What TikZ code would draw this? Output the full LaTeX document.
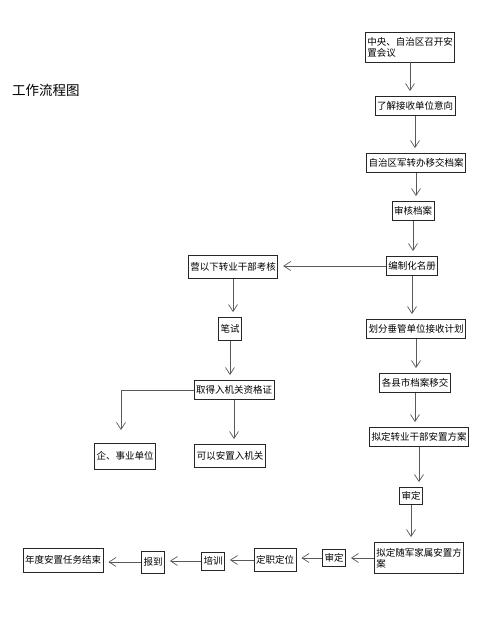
\documentclass[tikz,border=0pt]{standalone}
\usepackage{fontspec}
\newfontfamily\cjk{Noto Sans CJK SC}
\usetikzlibrary{arrows.meta}
\tikzset{
  box/.style={draw=black!85, line width=.8pt, font=\cjk\fontsize{9.5}{11}\selectfont, inner sep=2pt, minimum height=19pt},
  flow/.style={draw=black!65, line width=.7pt, -{Straight Barb[length=7pt,width=9pt]}, shorten >=5pt}
}

\begin{document}
\begin{tikzpicture} [x=1pt,y=-1pt]
\useasboundingbox (0,0) rectangle (480,640);
\node[font=\cjk\fontsize{13.5}{15}\selectfont] (title) at (46,90) {工作流程图};
% main column
\node[box, align=left, minimum height=30pt] (meet) at (410,47) {中央、自治区召开安\\置会议};
\node[box] (intent) at (415,106) {了解接收单位意向};
\node[box] (hand) at (416,163) {自治区军转办移交档案};
\node[box] (check) at (413,211) {审核档案};
\node[box] (roll) at (412,266) {编制化名册};
\node[box] (plan) at (416,329) {划分垂管单位接收计划};
\node[box] (county) at (415,383) {各县市档案移交};
\node[box] (draft) at (419,437) {拟定转业干部安置方案};
\node[box, minimum height=17pt] (appr) at (411,496) {审定};
\node[box, align=left, minimum height=31pt] (family) at (419,558) {拟定随军家属安置方\\案};
% bottom row
\node[box, minimum height=17pt] (appr2) at (334,558) {审定};
\node[box, minimum height=23pt] (post) at (275,560) {定职定位};
\node[box, minimum height=18pt] (train) at (213,561) {培训};
\node[box, minimum height=22pt] (report) at (153,562) {报到};
\node[box, minimum height=24pt] (done) at (63,560) {年度安置任务结束};
% left branch
\node[box, minimum height=23pt] (exam) at (233,267) {营以下转业干部考核};
\node[box, minimum height=23pt] (write) at (230,329) {笔试};
\node[box] (cert) at (234,390) {取得入机关资格证};
\node[box, minimum height=26pt] (firm) at (125,456) {企、事业单位};
\node[box, minimum height=23pt] (organ) at (230,456) {可以安置入机关};
\coordinate (firmtip) at (121,430);
% arrows
\foreach \a/\b in {meet/intent, intent/hand, hand/check, check/roll, roll/plan, plan/county, county/draft, draft/appr, appr/family, exam/write, write/cert, cert/organ}
  \draw[flow] (\a.south) -- (\a.south |- \b.north);
\foreach \a/\b in {roll/exam, family/appr2, appr2/post, post/train, train/report, report/done}
  \draw[flow] (\a.west) -- (\a.west -| \b.east);
\draw[flow, shorten >=0pt] (cert.west) -| (firmtip);
\end{tikzpicture}
\end{document}
